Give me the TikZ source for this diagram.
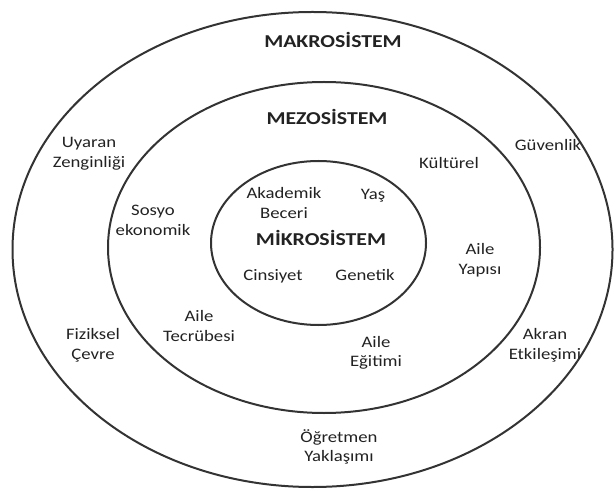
\documentclass[tikz,border=0pt]{standalone}
\usepackage{fontspec}
\setmainfont{Carlito}
\usepackage{graphicx}
\definecolor{ringcol}{HTML}{333333}
\definecolor{txtcol}{HTML}{222222}
\newcommand{\lbl}[1]{\scalebox{1.17}[1]{\begin{tabular}{@{}c@{}}#1\end{tabular}}}
\newcommand{\ttl}[1]{\scalebox{1.2}[1]{#1}}
\tikzset{
  ring/.style={draw=ringcol, line width=1.5pt},
  lab/.style={text=txtcol, inner sep=0pt, font=\fontsize{12}{14.6}\selectfont},
  title/.style={text=txtcol, inner sep=0pt, font=\bfseries\fontsize{13.6}{16}\selectfont}
}
\begin{document}
\begin{tikzpicture}[x=0.75pt,y=-0.75pt]
\useasboundingbox (0,0) rectangle (616,491);
% rings
\draw[ring] (312.5,249.5) ellipse [x radius=225pt, y radius=178.125pt];
\draw[ring] (324,247.5) ellipse [x radius=162pt, y radius=124.125pt];
\draw[ring] (318.5,243) ellipse [x radius=80.625pt, y radius=61.5pt];
% titles
\node[title] (makro) at (333,40) {\ttl{MAKROSİSTEM}};
\node[title] (mezo) at (327,117) {\ttl{MEZOSİSTEM}};
\node[title] (mikro) at (321,238) {\ttl{MİKROSİSTEM}};
% outer ring labels
\node[lab] (uyaran) at (89,153.5) {\lbl{Uyaran\\Zenginliği}};
\node[lab] (fiziksel) at (93,345.5) {\lbl{Fiziksel\\Çevre}};
\node[lab] (guvenlik) at (548,147) {\lbl{Güvenlik}};
\node[lab] (akran) at (545,345.5) {\lbl{Akran\\Etkileşimi}};
\node[lab] (ogretmen) at (339,448) {\lbl{Öğretmen\\Yaklaşımı}};
% middle ring labels
\node[lab] (sosyo) at (153,221.5) {\lbl{Sosyo\\ekonomik}};
\node[lab] (tecrube) at (199,327.5) {\lbl{Aile\\Tecrübesi}};
\node[lab] (kulturel) at (449,165) {\lbl{Kültürel}};
\node[lab] (yapi) at (480,260.5) {\lbl{Aile\\Yapısı}};
\node[lab] (egitim) at (376,353) {\lbl{Aile\\Eğitimi}};
% inner labels
\node[lab] (akademik) at (284,204.5) {\lbl{Akademik\\Beceri}};
\node[lab] (yas) at (373,196) {\lbl{Yaş}};
\node[lab] (cinsiyet) at (273,277) {\lbl{Cinsiyet}};
\node[lab] (genetik) at (365,277) {\lbl{Genetik}};
\end{tikzpicture}
\end{document}
